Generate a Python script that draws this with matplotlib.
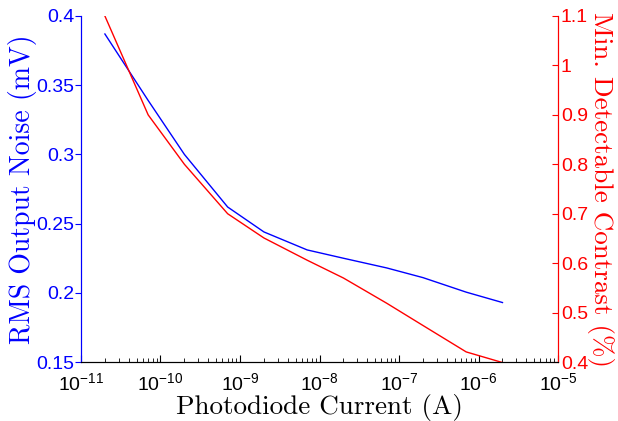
import matplotlib
matplotlib.use("Agg")
from matplotlib import pyplot as plt
from matplotlib.ticker import LogLocator, NullFormatter

# photodiode current (A)
current = [2e-11, 7e-11, 2e-10, 7e-10, 2e-9, 7e-9, 2e-8, 7e-8, 2e-7, 7e-7, 2e-6]
# RMS output noise (mV)
noise = [0.387, 0.339, 0.300, 0.262, 0.244, 0.231, 0.225, 0.218, 0.211, 0.2005, 0.193]
# minimum detectable contrast (%)
contrast = [1.10, 0.90, 0.80, 0.70, 0.651, 0.606, 0.570, 0.519, 0.474, 0.4205, 0.399]

x_ticks = [1e-11, 1e-10, 1e-9, 1e-8, 1e-7, 1e-6, 1e-5]
x_labels = [r'$\mathdefault{10^{-11}}$', r'$\mathdefault{10^{-10}}$',
            r'$\mathdefault{10^{-9}}$', r'$\mathdefault{10^{-8}}$',
            r'$\mathdefault{10^{-7}}$', r'$\mathdefault{10^{-6}}$',
            r'$\mathdefault{10^{-5}}$']
left_ticks = [0.15, 0.2, 0.25, 0.3, 0.35, 0.4]
left_labels = ['0.15', '0.2', '0.25', '0.3', '0.35', '0.4']
right_ticks = [0.4, 0.5, 0.6, 0.7, 0.8, 0.9, 1.0, 1.1]
right_labels = ['0.4', '0.5', '0.6', '0.7', '0.8', '0.9', '1', '1.1']

plt.rcParams['font.family'] = ['Liberation Sans', 'DejaVu Sans']
plt.rcParams['mathtext.fontset'] = 'custom'
plt.rcParams['mathtext.rm'] = 'Liberation Sans'
plt.rcParams['mathtext.it'] = 'Liberation Sans'

fig = plt.figure(figsize=(6.18, 4.21), dpi=100)
ax = fig.add_axes([0.131, 0.140, 0.772, 0.822])
ax2 = ax.twinx()

ax.plot(current, noise, color='#0000ff', lw=1.0)
ax2.plot(current, contrast, color='#ff0000', lw=1.0)

ax.set_xscale('log')
ax.set_xlim(1e-11, 1e-5)
ax.set_ylim(0.15, 0.4)
ax2.set_ylim(0.4, 1.1)

ax.set_xticks(x_ticks)
ax.set_xticklabels(x_labels)
ax.xaxis.set_minor_locator(LogLocator(base=10, subs=range(2, 10), numticks=10))
ax.xaxis.set_minor_formatter(NullFormatter())

ax.set_yticks(left_ticks)
ax.set_yticklabels(left_labels)
ax2.set_yticks(right_ticks)
ax2.set_yticklabels(right_labels)

for a in (ax, ax2):
    a.spines['top'].set_visible(False)
    a.spines['left'].set_color('#0000ff')
    a.spines['right'].set_color('#ff0000')
    a.spines['bottom'].set_color('black')

ax.tick_params(axis='x', which='major', direction='in', length=5, width=0.8,
               labelsize=14, pad=7, colors='black')
ax.tick_params(axis='x', which='minor', direction='in', length=3, width=0.6)
ax.tick_params(axis='y', direction='out', length=4, width=0.8, colors='#0000ff',
               labelsize=14, pad=1)
ax2.tick_params(axis='y', direction='in', length=4, width=0.8, colors='#ff0000',
                labelsize=14, pad=2)

ax.set_xlabel('Photodiode Current (A)', family='cmr10', fontsize=19.5,
              labelpad=0)
ax.set_ylabel('RMS Output Noise (mV)', family='cmr10', fontsize=20,
              color='#0000ff', labelpad=-1)
ax2.set_ylabel('Min. Detectable Contrast (%)', family='cmr10',
               fontsize=19.5, color='#ff0000', rotation=270, labelpad=19)

plt.savefig('out.png', dpi=100)
